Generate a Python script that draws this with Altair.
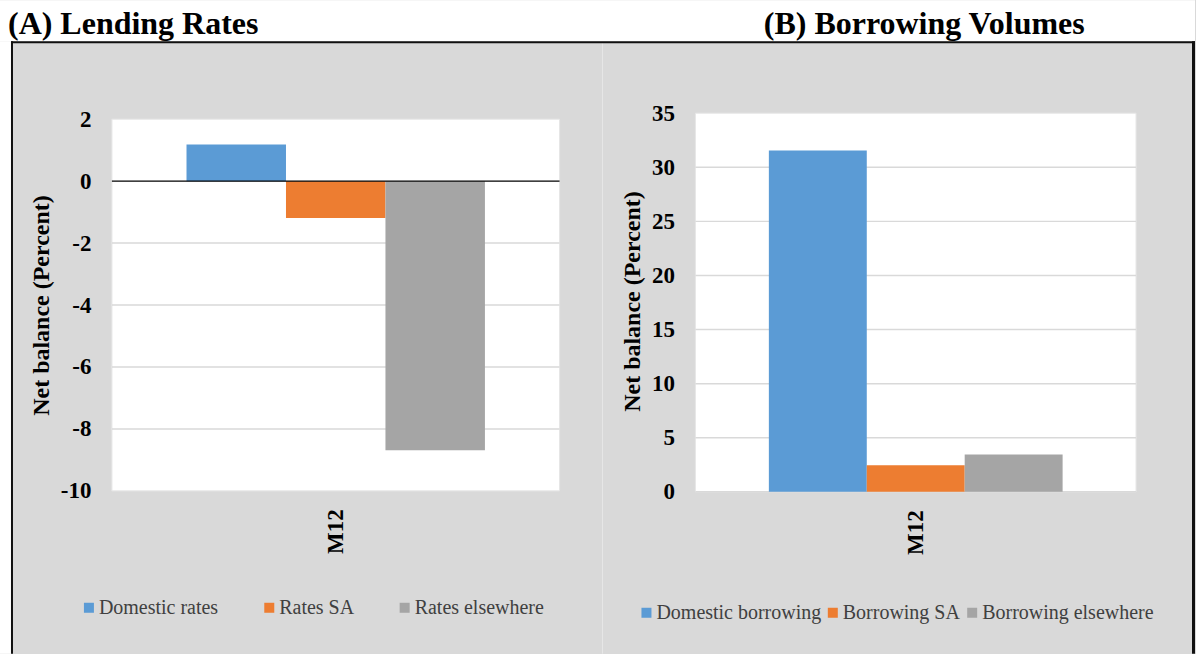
import altair as alt
import pandas as pd

# ---- data -------------------------------------------------------------
PERIOD = ["M12"]

RATE_SERIES = ["Domestic rates", "Rates SA", "Rates elsewhere"]
RATE_VALUES = [1.18, -1.19, -8.69]
RATE_TICKS = [2, 0, -2, -4, -6, -8, -10]
RATE_GRID = [-2, -4, -6, -8]

BORROW_SERIES = ["Domestic borrowing", "Borrowing SA", "Borrowing elsewhere"]
BORROW_VALUES = [31.55, 2.45, 3.46]
BORROW_TICKS = [0, 5, 10, 15, 20, 25, 30, 35]
BORROW_GRID = [5, 10, 15, 20, 25, 30]

SERIES_COLORS = ["#5b9bd5", "#ed7d31", "#a5a5a5"]
PANEL_TITLES = ["(A) Lending Rates", "(B) Borrowing Volumes"]
Y_TITLE = "Net balance (Percent)"

FONT = "Liberation Serif"
PANEL_GREY = "#d9d9d9"
GRID_GREY = "#d9d9d9"

ONE = pd.DataFrame({"k": [0]})


def box(x, x2, y, y2, color):
    """Flat rectangle placed in the pixel space of its view."""
    return alt.Chart(ONE).mark_rect(color=color).encode(
        x=alt.value(x), x2=alt.value(x2), y=alt.value(y), y2=alt.value(y2)
    )


def line(x, x2, y, y2, color, width):
    return alt.Chart(ONE).mark_rule(color=color, strokeWidth=width).encode(
        x=alt.value(x), x2=alt.value(x2), y=alt.value(y), y2=alt.value(y2)
    )


def heading(text, x, align):
    return alt.Chart(ONE).mark_text(
        text=text, font=FONT, fontSize=32, fontWeight="bold", color="black",
        align=align, baseline="alphabetic",
    ).encode(x=alt.value(x), y=alt.value(-79))


def panel(series, values, ticks, grid, domain, width, legend_x, legend_y,
          col_pad, title_y, base_color, base_width):
    df = pd.DataFrame({"period": PERIOD * len(series),
                       "series": series, "value": values})
    yscale = alt.Scale(domain=domain, nice=False, zero=False)

    y_axis = alt.Axis(
        values=ticks, labelExpr="'' + datum.value", grid=False, ticks=False,
        domain=False, labelPadding=21, labelFont=FONT, labelFontSize=23,
        labelFontWeight="bold", labelColor="black", title=Y_TITLE,
        titleFont=FONT, titleFontSize=24, titleFontWeight="bold",
        titleColor="black", titlePadding=7, titleY=title_y, zindex=1,
    )

    def yq(field):
        return alt.Y(field, type="quantitative", scale=yscale, axis=y_axis)

    x_axis = alt.Axis(
        labelAngle=-90, labelFont=FONT, labelFontSize=23, labelFontWeight="bold",
        labelColor="black", labelPadding=18, ticks=False, domain=False,
        zindex=1,
    )
    legend = alt.Legend(
        title=None, orient="none", legendX=legend_x, legendY=legend_y,
        direction="horizontal", columnPadding=col_pad, symbolType="square",
        symbolSize=100, symbolStrokeWidth=0, labelFont=FONT, labelFontSize=20,
        labelColor="#404040", labelLimit=400, labelOffset=0, padding=0,
    )

    # white plotting area spanning the full value range
    frame = pd.DataFrame({"top": [max(ticks)], "bottom": [min(ticks)]})
    plot_bg = alt.Chart(frame).mark_rect(
        fill="white", stroke="#e6e6e6", strokeWidth=1
    ).encode(
        x=alt.value(0), x2=alt.value(width),
        y=yq("top"), y2=alt.Y2("bottom:Q"),
    )

    gridlines = alt.Chart(pd.DataFrame({"g": grid})).mark_rule(
        color=GRID_GREY, strokeWidth=1.5
    ).encode(x=alt.value(0), x2=alt.value(width), y=yq("g"))

    baseline = alt.Chart(pd.DataFrame({"z": [0]})).mark_rule(
        color=base_color, strokeWidth=base_width
    ).encode(x=alt.value(0), x2=alt.value(width), y=yq("z"))

    bars = alt.Chart(df).mark_bar().encode(
        x=alt.X("period:N", title=None, axis=x_axis,
                scale=alt.Scale(paddingInner=0, paddingOuter=0.25)),
        xOffset=alt.XOffset("series:N", sort=series,
                            scale=alt.Scale(paddingInner=0, paddingOuter=0)),
        y=yq("value"),
        y2=alt.datum(0),
        color=alt.Color("series:N", sort=series,
                        scale=alt.Scale(domain=series, range=SERIES_COLORS),
                        legend=legend),
    )
    return plot_bg, gridlines, baseline, bars


# ---- panel A: lending rates -------------------------------------------
WA, HA = 448, 378
a_bg, a_grid, a_zero, a_bars = panel(
    RATE_SERIES, RATE_VALUES, RATE_TICKS, RATE_GRID, [-10, 2.194], WA,
    legend_x=-33, legend_y=485, col_pad=40.5, title_y=192,
    base_color="black", base_width=1.2,
)
left = alt.layer(
    box(-112, 1084, -113, -72, "white"),          # white strip above the frame
    box(-112, -101, -72, 541, "white"),           # white margin left of the frame
    a_bg, a_grid, a_bars, a_zero,
    heading(PANEL_TITLES[0], -104, "left"),
).properties(width=WA, height=HA)

# ---- panel B: borrowing volumes ---------------------------------------
WB, HB = 441, 379
b_bg, b_grid, b_base, b_bars = panel(
    BORROW_SERIES, BORROW_VALUES, BORROW_TICKS, BORROW_GRID, [0, 35], WB,
    legend_x=-59, legend_y=490, col_pad=1.5, title_y=188,
    base_color=GRID_GREY, base_width=1.5,
)
right = alt.layer(
    line(-93, -93, -70, 541, "#e6e6e6", 1),       # divider between panels
    b_bg, b_grid, b_base, b_bars,
    heading(PANEL_TITLES[1], 229, "center"),
    line(-685, 500, -71, -71, "#111111", 2),      # frame: top
    line(-684, -684, -72, 541, "#111111", 2),     # frame: left
    line(498.5, 498.5, -72, 541, "#111111", 3),   # frame: right
).properties(width=WB, height=HB)

chart = (
    alt.hconcat(left, right, spacing=136, bounds="flush")
    .resolve_scale(color="independent", y="independent", x="independent",
                   xOffset="independent")
    .resolve_legend(color="independent")
    .properties(padding=0, background=PANEL_GREY)
    .configure_view(strokeWidth=0)
)

chart.save("out.html", embed_options={"renderer": "svg", "actions": False})
